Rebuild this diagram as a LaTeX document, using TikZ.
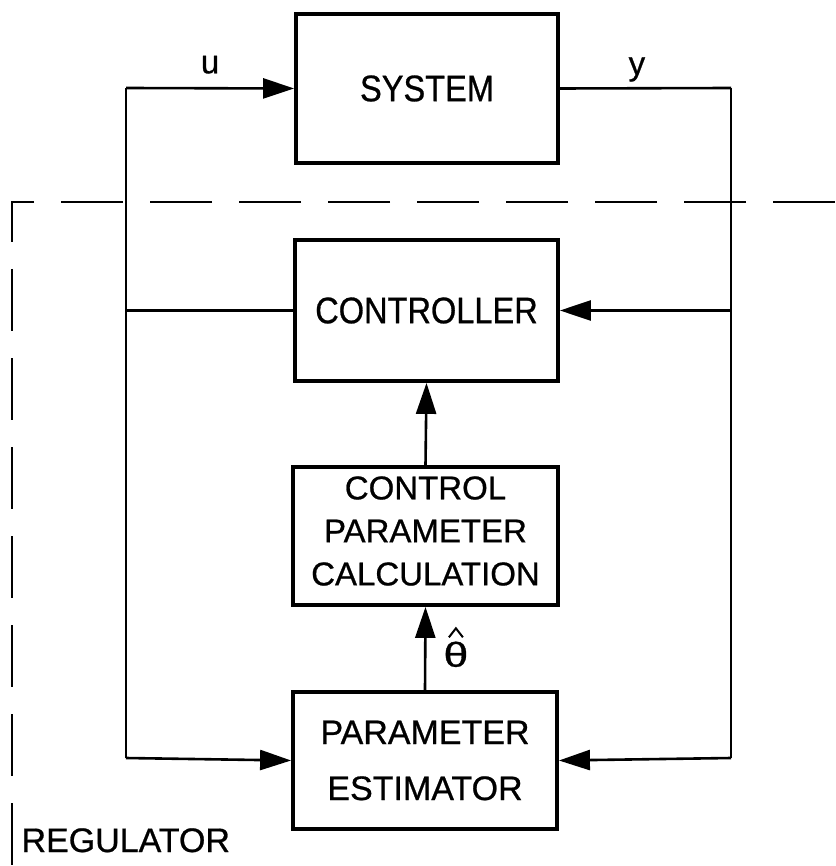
\documentclass[tikz,border=0pt]{standalone}
\usepackage{fontspec}
\newfontfamily\diagfont[FakeStretch=0.88, FakeBold=0.7]{Liberation Sans}
\newfontfamily\widefont[FakeBold=0.7]{Liberation Sans}
\usepackage{tikz}
\usetikzlibrary{arrows.meta}

\begin{document}
\begin{tikzpicture}[
    x=1pt, y=-1pt,
    block/.style={rectangle, draw=black, line width=3.8pt, align=center, inner sep=0pt},
    sig/.style={line width=2.6pt, line join=round},
    tip/.style={-{Triangle[length=31pt, width=20pt]}},
    boundary/.style={line width=2.2pt, dash pattern=on 62pt off 27pt},
    lbl/.style={font=\widefont\fontsize{33}{40}\selectfont}
]
\useasboundingbox (0,0) rectangle (835,866);

% Blokken
\node[block, minimum width=262pt, minimum height=149pt, font=\diagfont\fontsize{37}{44}\selectfont] (sys) at (427,88.5) {SYSTEM};
\node[block, minimum width=263pt, minimum height=141pt, font=\diagfont\fontsize{37}{44}\selectfont] (ctrl) at (426.5,310.5) {CONTROLLER};
\node[block, minimum width=265pt, minimum height=138pt] (cpc) at (425.5,536) {};
\node[align=center, inner sep=0pt, font=\widefont\fontsize{33}{43}\selectfont] (cpctxt) at (425.5,531) {CONTROL\\PARAMETER\\CALCULATION};
\node[block, minimum width=264pt, minimum height=137pt, font=\widefont\fontsize{34}{56}\selectfont] (est) at (425,760.5) {PARAMETER\\ESTIMATOR};

% Hoekpunten van de lussen
\coordinate (ul) at (126,88);
\coordinate (yr) at (731,88);
\coordinate (lb) at (126,758);
\coordinate (rb) at (731,758);

% Signalen
\draw[sig, tip] (ul) -- (sys.west) node[lbl, midway, above=10pt] (u) {u};
\draw[sig] (sys.east) -- (yr) node[lbl, pos=0.45, above=2pt] (y) {y};
\draw[sig] (ul) -- (lb);
\draw[sig] (yr) -- (rb);
\draw[sig] (ctrl.west) -- (ul |- ctrl.west);
\draw[sig, tip] (yr |- ctrl.east) -- (ctrl.east);
\draw[sig, tip] (cpc.north) -- (ctrl.south);
\draw[sig, tip] (est.north) -- (cpc.south) node[lbl, inner sep=0pt, anchor=west, pos=0.43, xshift=17pt] (theta) {\scalebox{1.35}[1.05]{θ}};
% dakje boven de theta
\draw[line width=2pt, line join=miter] (theta.north) ++(-7,-3) -- ++(7,-9) -- ++(7,9);
\draw[sig, tip] (lb) -- (est.west);
\draw[sig, tip] (rb) -- (est.east);

% Regulatorgrens
\draw[boundary] (835,202) -- (12,202) -- (12,867) -- (835,867);
\node[font=\widefont\fontsize{34}{40}\selectfont, anchor=base west] (reg) at (18,852) {REGULATOR};

\end{tikzpicture}
\end{document}
